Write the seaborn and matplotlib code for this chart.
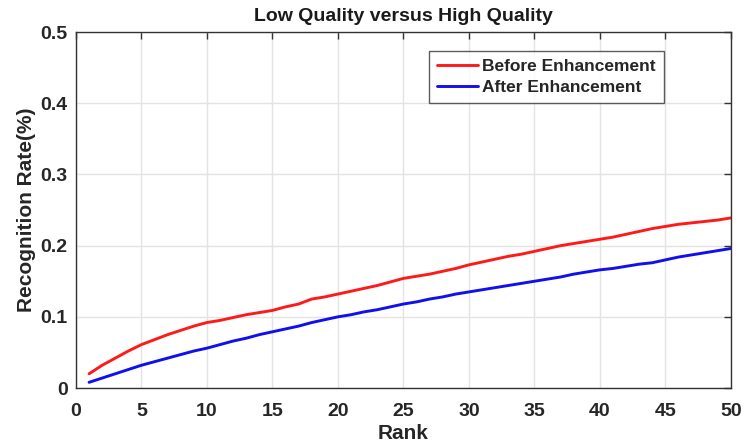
import numpy as np
import pandas as pd
import matplotlib
matplotlib.use("Agg")
import matplotlib.pyplot as plt
import seaborn as sns

rank = list(range(1, 51))
before_enh = [0.020, 0.032, 0.042, 0.052, 0.061, 0.068, 0.075, 0.081, 0.087, 0.092,
              0.095, 0.099, 0.103, 0.106, 0.109, 0.114, 0.118, 0.125, 0.128, 0.132,
              0.136, 0.140, 0.144, 0.149, 0.154, 0.157, 0.160, 0.164, 0.168, 0.173,
              0.177, 0.181, 0.185, 0.188, 0.192, 0.196, 0.200, 0.203, 0.206, 0.209,
              0.212, 0.216, 0.220, 0.224, 0.227, 0.230, 0.232, 0.234, 0.236, 0.239]
after_enh = [0.008, 0.014, 0.020, 0.026, 0.032, 0.037, 0.042, 0.047, 0.052, 0.056,
             0.061, 0.066, 0.070, 0.075, 0.079, 0.083, 0.087, 0.092, 0.096, 0.100,
             0.103, 0.107, 0.110, 0.114, 0.118, 0.121, 0.125, 0.128, 0.132, 0.135,
             0.138, 0.141, 0.144, 0.147, 0.150, 0.153, 0.156, 0.160, 0.163, 0.166,
             0.168, 0.171, 0.174, 0.176, 0.180, 0.184, 0.187, 0.190, 0.193, 0.196]
series_names = ["Before Enhancement", "After Enhancement"]
series_colors = ["#ff1a1a", "#1010ee"]
x_ticks = list(range(0, 51, 5))
y_ticks = [0, 0.1, 0.2, 0.3, 0.4, 0.5]
y_tick_labels = ["0", "0.1", "0.2", "0.3", "0.4", "0.5"]

df = pd.DataFrame({
    "Rank": rank * 2,
    "Rate": before_enh + after_enh,
    "Series": [series_names[0]] * len(rank) + [series_names[1]] * len(rank),
})

sns.set_theme(style="white")
plt.rcParams["font.family"] = ["Liberation Sans", "DejaVu Sans"]

fig = plt.figure(figsize=(7.42, 4.46), dpi=100)
ax = fig.add_axes([0.1024, 0.130, 0.8826, 0.798])

sns.lineplot(data=df, x="Rank", y="Rate", hue="Series", hue_order=series_names,
             palette=series_colors, linewidth=2.1, ax=ax, legend=False)

ax.set_xlim(0, 50)
ax.set_ylim(0, 0.5)
ax.set_xticks(x_ticks)
ax.set_yticks(y_ticks)
ax.set_yticklabels(y_tick_labels)
ax.grid(True, color="#e3e3e3", linewidth=1.0)
ax.set_axisbelow(True)
for s in ax.spines.values():
    s.set_color("#333333")
    s.set_linewidth(1.0)
ax.tick_params(direction="in", length=5, width=1, color="#333333",
               top=True, right=True, labelsize=14)
ax.tick_params(axis="x", pad=11)
ax.tick_params(axis="y", pad=6)
for lab in ax.get_xticklabels() + ax.get_yticklabels():
    lab.set_fontweight("bold")
    lab.set_color("#262626")

ax.set_xlabel("Rank", fontsize=15, fontweight="bold", color="#262626", labelpad=3)
ax.set_ylabel("Recognition Rate(%)", fontsize=15, fontweight="bold", color="#262626",
              labelpad=3)
ax.set_title("Low Quality versus High Quality", fontsize=14, fontweight="bold",
             color="#1a1a1a", pad=8)

handles = [plt.Line2D([], [], color=c, linewidth=2.1) for c in series_colors]
leg = ax.legend(handles, series_names, loc="upper left", bbox_to_anchor=(0.5265, 0.97),
                frameon=True, fancybox=False, borderpad=0.45, handlelength=2.35,
                handletextpad=0.25, labelspacing=0.3,
                prop={"weight": "bold", "size": 12.5})
leg.get_frame().set_edgecolor("#333333")
leg.get_frame().set_linewidth(1.0)

fig.savefig("out.png", dpi=100)
